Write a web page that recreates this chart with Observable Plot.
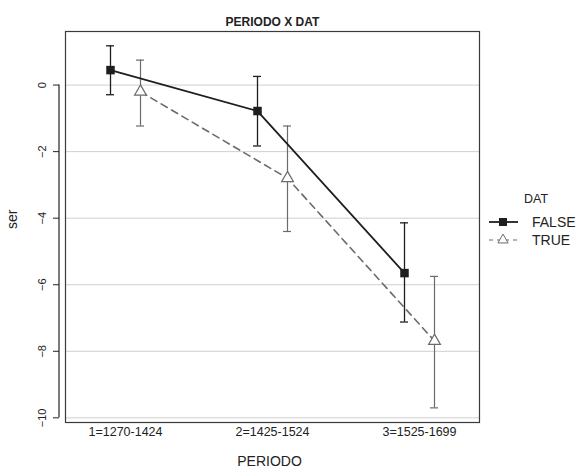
<!DOCTYPE html>
<html>
<head>
<meta charset="utf-8">
<script src="https://cdn.jsdelivr.net/npm/d3@7"></script>
<script src="https://cdn.jsdelivr.net/npm/@observablehq/plot@0.6"></script>
<style>
  html, body { margin: 0; padding: 0; background: #fff; }
  #chart { width: 582px; height: 472px; }
</style>
</head>
<body>
<div id="chart"></div>
<script>
const periods = ["1=1270-1424", "2=1425-1524", "3=1525-1699"];
const groups = ["FALSE", "TRUE"];
const falseMean = [0.45, -0.78, -5.65];
const falseLo   = [-0.29, -1.83, -7.12];
const falseHi   = [1.18, 0.26, -4.14];
const trueMean  = [-0.20, -2.80, -7.69];
const trueLo    = [-1.23, -4.40, -9.70];
const trueHi    = [0.75, -1.23, -5.75];
const yTicks = [0, -2, -4, -6, -8, -10];

const rowsF = periods.map((p, i) => ({period: p, dat: "FALSE", mean: falseMean[i], lo: falseLo[i], hi: falseHi[i]}));
const rowsT = periods.map((p, i) => ({period: p, dat: "TRUE", mean: trueMean[i], lo: trueLo[i], hi: trueHi[i]}));

const FONT = "'Liberation Sans', Arial, Helvetica, sans-serif";
const cF = "#1e1e1e", cT = "#6b6b6b";
const off = 15;

const plot = Plot.plot({
  width: 582,
  height: 472,
  marginLeft: 65,
  marginRight: 103,
  marginTop: 31,
  marginBottom: 50,
  style: {fontFamily: FONT, background: "#fff", color: "#222"},
  x: {type: "band", domain: periods, paddingInner: 0.9458, paddingOuter: 0.3754, label: null},
  y: {domain: [-10.14, 1.61], label: null},
  marks: [
    Plot.gridY(yTicks, {stroke: "#cfcfcf", strokeOpacity: 1, strokeWidth: 1}),
    Plot.frame({stroke: "#3a3a3a", strokeWidth: 1.2}),
    // error bars
    Plot.ruleX(rowsF, {x: "period", y1: "lo", y2: "hi", dx: -off, stroke: cF, strokeWidth: 1.3}),
    Plot.tickY(rowsF, {x: "period", y: "lo", dx: -off, stroke: cF, strokeWidth: 1.3}),
    Plot.tickY(rowsF, {x: "period", y: "hi", dx: -off, stroke: cF, strokeWidth: 1.3}),
    Plot.ruleX(rowsT, {x: "period", y1: "lo", y2: "hi", dx: off, stroke: cT, strokeWidth: 1.2}),
    Plot.tickY(rowsT, {x: "period", y: "lo", dx: off, stroke: cT, strokeWidth: 1.2}),
    Plot.tickY(rowsT, {x: "period", y: "hi", dx: off, stroke: cT, strokeWidth: 1.2}),
    // lines
    Plot.line(rowsF, {x: "period", y: "mean", dx: -off, stroke: cF, strokeWidth: 1.8}),
    Plot.line(rowsT, {x: "period", y: "mean", dx: off, stroke: cT, strokeWidth: 1.6, strokeDasharray: "7,5"}),
    // points
    Plot.dot(rowsF, {x: "period", y: "mean", dx: -off, symbol: "square", r: 4.8, fill: cF, stroke: "none"}),
    Plot.dot(rowsT, {x: "period", y: "mean", dx: off, symbol: "triangle", r: 4.4, fill: "#fff", stroke: cT, strokeWidth: 1.2}),
    // axes
    Plot.axisX({tickSize: 0, tickPadding: 5, fontSize: 12.5, label: null, fill: "#222"}),
    Plot.axisY({ticks: yTicks, tickSize: 6, dx: -6, tickRotate: -90, tickPadding: 8, fontSize: 11, label: null, stroke: "#222", fill: "#222"}),
    // titles
    Plot.text(["PERIODO X DAT"], {frameAnchor: "top", dy: -14, fontWeight: "bold", fontSize: 12, fill: "#222"}),
    Plot.text(["PERIODO"], {frameAnchor: "bottom", dy: 43, dx: -3, fontSize: 14, fill: "#222"}),
    Plot.text(["ser"], {frameAnchor: "left", dx: -53, dy: 2, rotate: -90, fontSize: 14, fill: "#222"})
  ]
});

document.getElementById("chart").appendChild(plot);

// y axis line (domain line) drawn from the y scale
const ys = plot.scale("y");
const svg = d3.select(plot);
svg.append("line")
  .attr("x1", 59).attr("x2", 59)
  .attr("y1", ys.apply(yTicks[0])).attr("y2", ys.apply(yTicks[yTicks.length - 1]))
  .attr("stroke", "#222").attr("stroke-width", 1.2);

// legend
const lg = svg.append("g").attr("font-family", FONT).attr("fill", "#222").attr("text-anchor", "start");
lg.append("text").attr("x", 536).attr("y", 199).attr("text-anchor", "middle")
  .attr("dominant-baseline", "central").attr("font-size", 12.5).text("DAT");
const legendRows = [
  {label: groups[0], y: 222, color: cF, dash: null, width: 1.8},
  {label: groups[1], y: 240, color: cT, dash: "4,4", width: 1.2}
];
legendRows.forEach((r, i) => {
  lg.append("line").attr("x1", 489).attr("x2", 518).attr("y1", r.y).attr("y2", r.y)
    .attr("stroke", r.color).attr("stroke-width", r.width)
    .attr("stroke-dasharray", r.dash);
  if (i === 0) {
    lg.append("rect").attr("x", 499).attr("y", r.y - 4).attr("width", 8).attr("height", 8).attr("fill", r.color);
  } else {
    lg.append("path").attr("transform", `translate(503,${r.y})`)
      .attr("d", d3.symbol(d3.symbolTriangle, 45)())
      .attr("fill", "#fff").attr("stroke", r.color).attr("stroke-width", 1);
  }
  lg.append("text").attr("x", 532).attr("y", r.y).attr("text-anchor", "start")
    .attr("dominant-baseline", "central").attr("font-size", 14).text(r.label);
});
</script>
</body>
</html>
